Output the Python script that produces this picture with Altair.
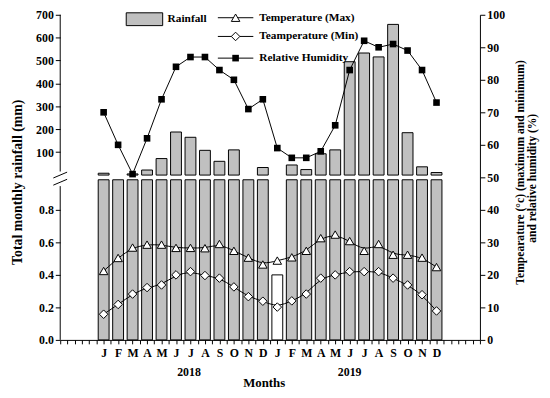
import altair as alt
import pandas as pd

# ---------------- data ----------------
month_letters = ["J", "F", "M", "A", "M", "J", "J", "A", "S", "O", "N", "D"]
months = month_letters * 2
rain = [8, 0, 5, 22, 72, 188, 165, 108, 60, 110, 0, 33,
        0, 44, 24, 93, 110, 495, 533, 516, 658, 185, 36, 11]
lower_bar = [0.985] * 12 + [0.4] + [0.985] * 11
tmax = [21.2, 25.2, 28.4, 29.3, 29.3, 28.3, 28.3, 28.2, 29.5, 27.4, 25.3, 23.2,
        24.4, 25.4, 27.4, 31.3, 32.4, 30.4, 27.4, 29.5, 26.2, 26.2, 25.3, 22.4]
tmin = [7.9, 10.9, 14.1, 16.1, 16.9, 20.0, 21.0, 19.8, 19.0, 16.3, 13.3, 11.9,
        10.1, 12.0, 14.1, 19.0, 20.0, 21.0, 21.0, 21.0, 19.0, 16.9, 13.9, 8.9]
rh = [70, 60, 51, 62, 74, 84, 87, 87, 83, 80, 71, 74,
      59, 56, 56, 58, 66, 83, 92, 90, 91, 89, 83, 73]
years = ["2018", "2019"]
year_pos = [5.9, 17.0]
left_lower_ticks = [0.0, 0.2, 0.4, 0.6, 0.8]
left_upper_ticks = [100, 200, 300, 400, 500, 600, 700]
right_ticks = [0, 10, 20, 30, 40, 50, 60, 70, 80, 90, 100]
legend_labels = ["Temperature (Max)", "Teamperature (Min)", "Relative Humidity"]

# ---------------- layout constants ----------------
W, H = 426, 330
U0 = 50.7            # where rainfall 0 sits on the shared 0-100 scale
USPAN = 100 - U0     # 700 mm spans this
LOWK = 50.0          # lower-section multiplier (0.8 -> 40)
FONT = "Liberation Serif"
GRAY = "#c0c0c0"

df = pd.DataFrame({"idx": list(range(24)), "month": months, "rain": rain,
                   "lower": lower_bar, "tmax": tmax, "tmin": tmin, "rh": rh})
one = pd.DataFrame({"a": [0]})

def xs():
    return alt.Scale(domain=[-3, 26], nice=False, zero=False)

def ys():
    return alt.Scale(domain=[0, 100], nice=False, zero=False)

axis_style = dict(labelFont=FONT, labelFontWeight="bold", labelFontSize=12,
                  labelColor="black", tickColor="black", domainColor="black",
                  grid=False, title=None)

half_ticks = [i / 2 for i in range(-6, 53)]
x_axis = alt.Axis(values=half_ticks, tickSize=4, labelPadding=4, labelOverlap=False,
                  labelExpr="(datum.value >= 0 && datum.value <= 23 && datum.value == floor(datum.value)) ? "
                            + str(month_letters).replace(" ", "") + "[datum.value % 12] : ''",
                  **axis_style)

left_vals = [v * LOWK for v in left_lower_ticks] + [U0 + r * USPAN / 700 for r in left_upper_ticks]
left_axis = alt.Axis(orient="left", values=left_vals, domain=False, tickSize=5, labelPadding=2,
                     labelOverlap=False,
                     labelExpr=f"datum.value < 45 ? format(datum.value/{LOWK}, '.1f') : "
                               f"format(round((datum.value - {U0})*700/{USPAN}), 'd')",
                     **axis_style)
right_axis = alt.Axis(orient="right", values=right_ticks, tickSize=5, labelPadding=2,
                      labelOverlap=False, **axis_style)

base = alt.Chart(df)

lower_bars = base.transform_calculate(
    x1="datum.idx - 0.375", x2="datum.idx + 0.375", y0="0", y1=f"datum.lower * {LOWK}"
).mark_bar(stroke="black", strokeWidth=1).encode(
    x=alt.X("x1:Q", scale=xs(), axis=x_axis), x2="x2:Q",
    y=alt.Y("y1:Q", scale=ys(), axis=left_axis), y2="y0:Q",
    fill=alt.condition("datum.lower < 0.9", alt.value("white"), alt.value(GRAY)),
)

upper_bars = base.transform_filter("datum.rain > 0").transform_calculate(
    x1="datum.idx - 0.375", x2="datum.idx + 0.375",
    y0=f"{U0}", y1=f"{U0} + datum.rain * {USPAN} / 700"
).mark_bar(stroke="black", strokeWidth=1, fill=GRAY).encode(
    x=alt.X("x1:Q", scale=xs(), axis=None), x2="x2:Q",
    y=alt.Y("y1:Q", scale=ys(), axis=None), y2="y0:Q",
)

rh_line = base.mark_line(color="black", strokeWidth=1).encode(
    x=alt.X("idx:Q", scale=xs(), axis=None),
    y=alt.Y("rh:Q", scale=ys(), axis=right_axis),
)
rh_pts = base.mark_point(shape="square", filled=True, color="black", size=45, opacity=1).encode(
    x=alt.X("idx:Q", scale=xs(), axis=None), y=alt.Y("rh:Q", scale=ys(), axis=None))

tmax_line = base.mark_line(color="black", strokeWidth=1, interpolate="basis").encode(
    x=alt.X("idx:Q", scale=xs(), axis=None), y=alt.Y("tmax:Q", scale=ys(), axis=None))
tmax_pts = base.mark_point(shape="triangle-up", filled=True, fill="white", stroke="black",
                           strokeWidth=1, size=75, opacity=1).encode(
    x=alt.X("idx:Q", scale=xs(), axis=None), y=alt.Y("tmax:Q", scale=ys(), axis=None))

tmin_line = base.mark_line(color="black", strokeWidth=1, interpolate="basis").encode(
    x=alt.X("idx:Q", scale=xs(), axis=None), y=alt.Y("tmin:Q", scale=ys(), axis=None))
tmin_pts = base.mark_point(shape="diamond", filled=True, fill="white", stroke="black",
                           strokeWidth=1, size=75, opacity=1).encode(
    x=alt.X("idx:Q", scale=xs(), axis=None), y=alt.Y("tmin:Q", scale=ys(), axis=None))

# broken left axis line
seg = pd.DataFrame({"y1": [0, 51.8], "y2": [47.3, 100]})
axis_segs = alt.Chart(seg).mark_rule(color="black", strokeWidth=1).encode(
    x=alt.value(0), y=alt.Y("y1:Q", scale=ys(), axis=None), y2="y2:Q")
sl = pd.DataFrame({"y1": [47.6, 49.8], "y2": [49.4, 51.6]})
slashes = alt.Chart(sl).mark_rule(color="black", strokeWidth=1).encode(
    x=alt.value(-7), x2=alt.value(7), y=alt.Y("y1:Q", scale=ys(), axis=None), y2="y2:Q")

# texts
txt = dict(font=FONT, fontWeight="bold", fontSize=12, color="black")
legtxt = dict(font=FONT, fontWeight="bold", fontSize=11.5, color="black")
year_df = pd.DataFrame({"year": years, "pos": year_pos})
year_text = alt.Chart(year_df).mark_text(baseline="middle", align="center", **txt).encode(
    x=alt.X("pos:Q", scale=xs(), axis=None), y=alt.value(H + 33), text="year:N")
months_title = alt.Chart(one).mark_text(baseline="middle", align="center", fontSize=13,
                                        font=FONT, fontWeight="bold", color="black").encode(
    x=alt.value(207), y=alt.value(H + 44), text=alt.value("Months"))
left_title = alt.Chart(one).mark_text(angle=270, baseline="middle", align="center", fontSize=14,
                                      font=FONT, fontWeight="bold", color="black").encode(
    x=alt.value(-43), y=alt.value(170), text=alt.value("Total monthly rainfall (mm)"))
right_title1 = alt.Chart(one).mark_text(angle=270, baseline="middle", align="center", fontSize=11.8,
                                        font=FONT, fontWeight="bold", color="black").encode(
    x=alt.value(467), y=alt.value(160), text=alt.value("Tempearature (°c) (maximum and minimum)"))
right_title2 = alt.Chart(one).mark_text(angle=270, baseline="middle", align="center", fontSize=11.8,
                                        font=FONT, fontWeight="bold", color="black").encode(
    x=alt.value(479), y=alt.value(166), text=alt.value("and relative humidity (%)"))

# legend
leg_rect = alt.Chart(one).mark_rect(fill=GRAY, stroke="black", strokeWidth=1).encode(
    x=alt.value(67), x2=alt.value(104), y=alt.value(-2), y2=alt.value(11))
leg_rain = alt.Chart(one).mark_text(align="left", baseline="middle", **legtxt).encode(
    x=alt.value(109), y=alt.value(4), text=alt.value("Rainfall"))
leg_layers = [leg_rect, leg_rain]
leg_rows_y = [3, 22, 44]
leg_marks = [dict(shape="triangle-up", filled=True, fill="white", stroke="black", size=75),
             dict(shape="diamond", filled=True, fill="white", stroke="black", size=75),
             dict(shape="square", filled=True, color="black", size=45)]
for lab, yy, mk in zip(legend_labels, leg_rows_y, leg_marks):
    leg_layers.append(alt.Chart(one).mark_rule(color="black", strokeWidth=1).encode(
        x=alt.value(160), x2=alt.value(196), y=alt.value(yy)))
    leg_layers.append(alt.Chart(one).mark_point(strokeWidth=1, opacity=1, **mk).encode(
        x=alt.value(178), y=alt.value(yy)))
    leg_layers.append(alt.Chart(one).mark_text(align="left", baseline="middle", **legtxt).encode(
        x=alt.value(202), y=alt.value(yy), text=alt.value(lab)))

chart = alt.layer(
    lower_bars, upper_bars, axis_segs, slashes,
    tmax_line, tmin_line, rh_line, tmax_pts, tmin_pts, rh_pts,
    year_text, months_title, left_title, right_title1, right_title2,
    *leg_layers,
).resolve_scale(x="independent", y="independent").properties(
    width=W, height=H,
    autosize=alt.AutoSizeParams(type="none"),
    padding={"left": 53, "top": 4, "right": 63, "bottom": 50},
).configure_view(stroke=None)

chart.save("out.html", embed_options={"renderer": "svg", "actions": False})
